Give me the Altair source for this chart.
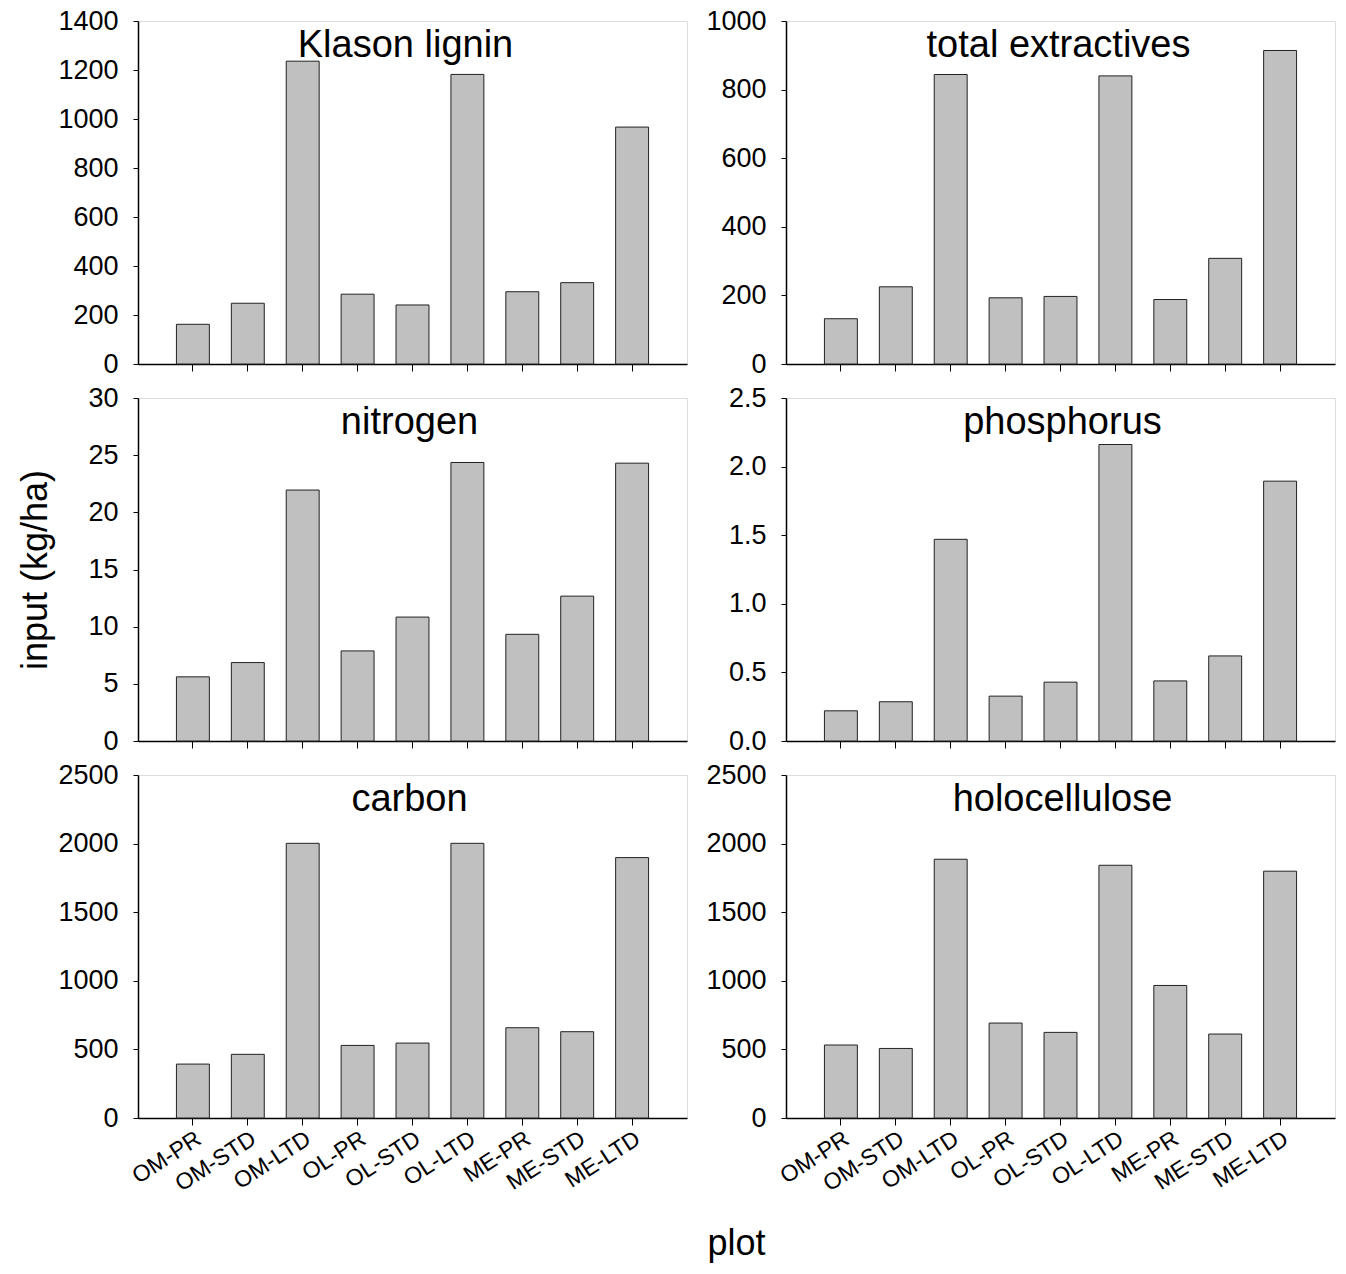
import altair as alt
import pandas as pd

plots = ["OM-PR", "OM-STD", "OM-LTD", "OL-PR", "OL-STD", "OL-LTD", "ME-PR", "ME-STD", "ME-LTD"]
klason = [162, 248, 1236, 285, 241, 1182, 295, 332, 967]
extractives = [132, 225, 844, 193, 197, 840, 188, 308, 914]
nitrogen = [5.61, 6.86, 21.95, 7.88, 10.84, 24.36, 9.33, 12.67, 24.30]
phosphorus = [0.22, 0.286, 1.47, 0.327, 0.429, 2.161, 0.438, 0.62, 1.894]
carbon = [393, 464, 2002, 529, 546, 2002, 658, 629, 1898]
holocellulose = [532, 507, 1886, 692, 624, 1842, 966, 612, 1799]

titles = ["Klason lignin", "total extractives", "nitrogen", "phosphorus", "carbon", "holocellulose"]
series = [klason, extractives, nitrogen, phosphorus, carbon, holocellulose]
ymaxes = [1400, 1000, 30, 2.5, 2500, 2500]
ysteps = [200, 200, 5, 0.5, 500, 500]
yformats = ["d", "d", "d", ".1f", "d", "d"]
title_dx = [-7, -2, -3, 2, -3, 2]

W, H = 549, 343
FONT = "Liberation Sans"


def panel(i):
    name, vals, ymax, step, fmt = titles[i], series[i], ymaxes[i], ysteps[i], yformats[i]
    df = pd.DataFrame({"plot": plots, "value": vals})
    bottom = i >= 4
    n = int(round(ymax / step))
    ticks = [round(k * step, 3) for k in range(n + 1)]

    xkw = dict(labels=bottom, labelAngle=327, labelAlign="right", labelBaseline="top",
               labelFontSize=23, labelPadding=2, tickSize=7, domainColor="black",
               domainWidth=1.5, tickColor="black", labelColor="black", labelFont=FONT)
    if i == 4:
        xkw.update(title="plot", titleX=598, titleY=125, titleFontSize=36, titleFont=FONT,
                   titleFontWeight="normal", titleBaseline="middle", titleAlign="center",
                   titleColor="black")
    else:
        xkw.update(title=None)

    ykw = dict(values=ticks, format=fmt, labelFontSize=27, labelPadding=15, tickSize=5,
               domainColor="black", domainWidth=1.5, tickColor="black", labelColor="black",
               labelFont=FONT, grid=False)
    if i == 2:
        ykw.update(title="input (kg/ha)", titleX=-103, titleY=H / 2, titleFontSize=36,
                   titleFont=FONT, titleFontWeight="normal", titleBaseline="middle",
                   titleAlign="center", titleColor="black")
    else:
        ykw.update(title=None)

    bars = alt.Chart(df).mark_bar(color="#c0c0c0", stroke="#222222", strokeWidth=1).encode(
        x=alt.X("plot:N", sort=plots, scale=alt.Scale(paddingInner=0.4, paddingOuter=0.7),
                axis=alt.Axis(**xkw)),
        y=alt.Y("value:Q", scale=alt.Scale(domain=[0, ymax], nice=False, zero=True),
                axis=alt.Axis(**ykw)),
    )
    label = alt.Chart(pd.DataFrame({"t": [name]})).mark_text(
        font=FONT, fontSize=38, color="black", baseline="alphabetic", align="center",
        dx=title_dx[i]
    ).encode(text="t:N", x=alt.value(W / 2), y=alt.value(36))
    return alt.layer(bars, label).properties(width=W, height=H)


charts = [panel(i) for i in range(6)]

chart = alt.concat(*charts, columns=2, spacing={"row": 34, "column": 99}, bounds="flush").properties(
    padding={"left": 16, "top": 6, "right": 5, "bottom": 5}
).configure_view(stroke="#6e6e6e", strokeWidth=1.5).configure(background="white")

chart.save("out.html", embed_options={"renderer": "svg", "actions": False})
